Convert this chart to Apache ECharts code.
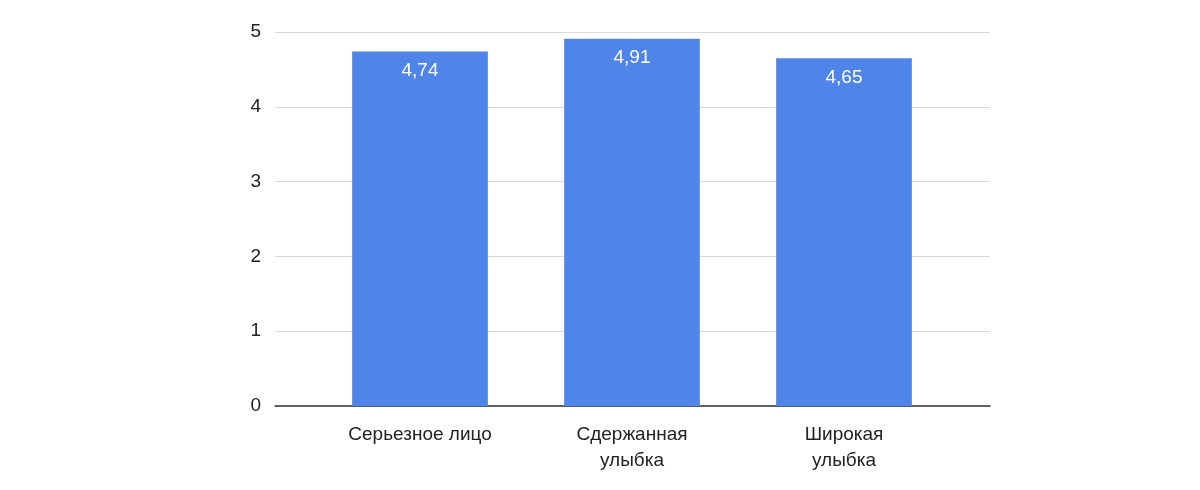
<!DOCTYPE html>
<html><head><meta charset="utf-8">
<script src="https://cdn.jsdelivr.net/npm/echarts@6/dist/echarts.min.js"></script>
<style>html,body{margin:0;background:#fff}#c{width:1200px;height:490px}</style>
</head><body><div id="c"></div>
<script>
const categories = ['Серьезное лицо', 'Сдержанная\nулыбка', 'Широкая\nулыбка'];
const values = [4.74, 4.91, 4.65];

const chart = echarts.init(document.getElementById('c'));
chart.setOption({
  animation: false,
  textStyle: { fontFamily: 'Liberation Sans, Arial, sans-serif' },
  grid: [
    { left: 314, right: 250, top: 32, bottom: 84 },
    { left: 275, right: 210, top: 32, bottom: 84 }
  ],
  xAxis: [{
    type: 'category', data: categories, gridIndex: 0,
    axisTick: { show: false },
    axisLine: { show: false },
    axisLabel: { color: '#222', fontSize: 19, margin: 16, lineHeight: 26 }
  }, {
    type: 'category', data: [''], gridIndex: 1,
    axisTick: { show: false }, axisLabel: { show: false },
    axisLine: { lineStyle: { color: '#333', width: 1.5 } }
  }],
  yAxis: [{
    type: 'value', min: 0, max: 5, interval: 1, gridIndex: 0, show: false
  }, {
    type: 'value', min: 0, max: 5, interval: 1, gridIndex: 1,
    axisLabel: { color: '#222', fontSize: 19, margin: 14 },
    splitLine: { lineStyle: { color: '#d9d9d9' } }
  }],
  series: [{
    type: 'bar', data: values, barWidth: '64%', z: 3,
    xAxisIndex: 0, yAxisIndex: 0,
    itemStyle: { color: '#4f84e9' },
    label: {
      show: true, position: 'insideTop', distance: 10, color: '#fff', fontSize: 19,
      formatter: p => String(p.value).replace('.', ',')
    }
  }]
});
</script></body></html>
